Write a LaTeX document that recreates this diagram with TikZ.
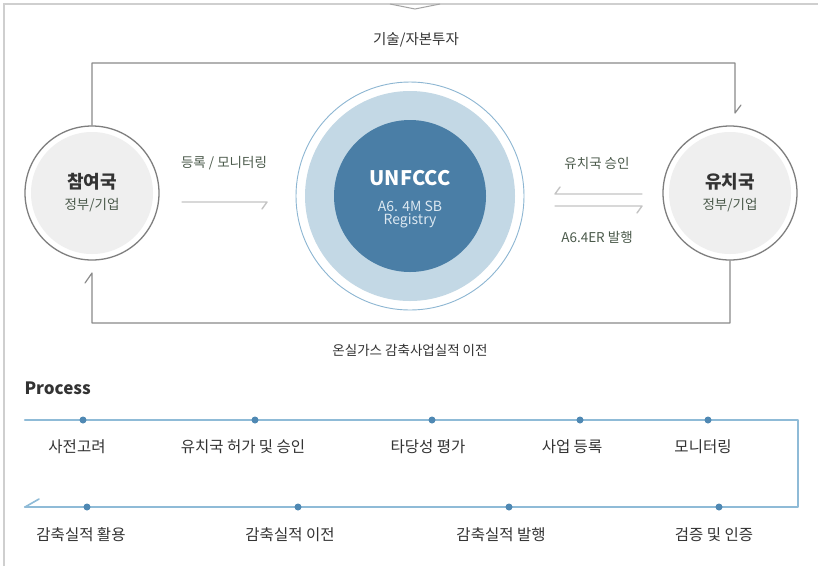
\documentclass[tikz,border=0pt]{standalone}
\usepackage{fontspec}
\setmainfont{Noto Sans CJK KR}
\usetikzlibrary{arrows.meta}
\definecolor{framec}{HTML}{CFCFCF}
\definecolor{connc}{HTML}{8A8A8A}
\definecolor{ringgray}{HTML}{7E7E7E}
\definecolor{partyfill}{HTML}{EFEFEF}
\definecolor{ringblue}{HTML}{8DB6D2}
\definecolor{lightblue}{HTML}{C3D8E5}
\definecolor{darkblue}{HTML}{4A7EA6}
\definecolor{paletext}{HTML}{DCE8F1}
\definecolor{greentext}{HTML}{4B5A4B}
\definecolor{darktext}{HTML}{333333}
\definecolor{shortarr}{HTML}{C4C4C4}
\definecolor{procline}{HTML}{8FBBD7}
\definecolor{procdot}{HTML}{4F88B3}
\tikzset{
  fs/.style={font=\fontsize{#1}{#1}\selectfont},
  fsb/.style={font=\fontsize{#1}{#1}\selectfont\bfseries},
  party/.style={circle, draw=ringgray, line width=1.3pt, minimum size=134pt, inner sep=0pt},
  conn/.style={draw=connc, line width=1.2pt, line join=round, line cap=round},
  shortar/.style={draw=shortarr, line width=1.4pt, line join=round, line cap=round},
  glabel/.style={fs=13.5, text=greentext},
  plabel/.style={fs=15.5, text=darktext},
  pdot/.style={circle, fill=procdot, minimum size=7pt, inner sep=0pt},
  procl/.style={draw=procline, line width=2.2pt, line join=round, line cap=round},
}
\begin{document}
\begin{tikzpicture}[x=1pt,y=-1pt]
\useasboundingbox (0,0) rectangle (818,566);
\fill[white] (0,0) rectangle (818,566);
% frame
\draw[framec, line width=1.6pt] (4,566) -- (4,4) -- (818,4);
\draw[framec!80!black, line width=1pt] (390,4) -- (415,9) -- (440,4);

% top label
\node[fs=14.5, text=darktext] (ttop) at (416,40) {기술/자본투자};

% party circles
\node[party] (A) at (92,193) {};
\fill[partyfill] (A.center) circle (61);
\node[fsb=18, text=darktext] (Aname) at (92,182) {참여국};
\node[glabel] (Asub) at (92,205) {정부/기업};

\node[party] (B) at (730,193) {};
\fill[partyfill] (B.center) circle (61);
\node[fsb=18, text=darktext] (Bname) at (730,182) {유치국};
\node[glabel] (Bsub) at (730,205) {정부/기업};

% UNFCCC
\node[circle, draw=ringblue, line width=0.9pt, minimum size=228pt, inner sep=0pt] (U) at (410,196) {};
\fill[lightblue] (U.center) circle (105);
\fill[darkblue] (U.center) circle (76);
\node[fsb=20, text=white] (Ut) at (410,178) {UNFCCC};
\node[fs=14, text=paletext] (Us1) at (410,206) {A6. 4M SB};
\node[fs=14, text=paletext] (Us2) at (410,221) {Registry};

% connectors (half-arrow barbs drawn at the tips)
\coordinate (t1) at (92,63);
\coordinate (t2) at (735,63);
\coordinate (t3) at (735,113);
\draw[conn] (A.north) -- (t1) -- (t2) -- (t3) -- ++(6,-8);

\coordinate (b1) at (730,323);
\coordinate (b2) at (92,323);
\coordinate (b3) at (92,273);
\draw[conn] (B.south) -- (b1) -- (b2) -- (b3) -- ++(-7,10);
\node[fs=13.5, text=darktext] (tbot) at (410,350) {온실가스 감축사업실적 이전};

% short arrows
\node[glabel] (l1) at (224,163) {등록 / 모니터링};
\coordinate (s1a) at (182,202);
\coordinate (s1b) at (267,202);
\draw[shortar] (s1a) -- (s1b) -- ++(-5,7);

\node[glabel] (l2) at (597,163) {유치국 승인};
\coordinate (s2a) at (642,194);
\coordinate (s2b) at (555,194);
\draw[shortar] (s2a) -- (s2b) -- ++(5,-7);
\coordinate (s3a) at (555,206);
\coordinate (s3b) at (642,206);
\draw[shortar] (s3a) -- (s3b) -- ++(-5,7);
\node[glabel] (l3) at (597,237) {A6.4ER 발행};

% Process
\node[fsb=17, text=darktext, anchor=west] (proc) at (21,388) {Process};
\coordinate (p0) at (25,420);
\coordinate (p1) at (798,420);
\coordinate (p2) at (798,507);
\coordinate (p3) at (25,507);
\draw[procl] (p0) -- (p1) -- (p2) -- (p3);
\draw[draw=procline, line width=1.6pt, line cap=round] (p3) -- ++(14,-8);

\node[pdot] (d1) at (83,420) {};
\node[pdot] (d2) at (255,420) {};
\node[pdot] (d3) at (432,420) {};
\node[pdot] (d4) at (580,420) {};
\node[pdot] (d5) at (708,420) {};
\node[pdot] (d6) at (719,507) {};
\node[pdot] (d7) at (509,507) {};
\node[pdot] (d8) at (298,507) {};
\node[pdot] (d9) at (87,507) {};

\node[plabel] (n1) at (77,447) {사전고려};
\node[plabel] (n2) at (243,447) {유치국 허가 및 승인};
\node[plabel] (n3) at (428,447) {타당성 평가};
\node[plabel] (n4) at (572,447) {사업 등록};
\node[plabel] (n5) at (703,447) {모니터링};
\node[plabel] (n6) at (714,535) {검증 및 인증};
\node[plabel] (n7) at (501,535) {감축실적 발행};
\node[plabel] (n8) at (290,535) {감축실적 이전};
\node[plabel] (n9) at (81,535) {감축실적 활용};
\end{tikzpicture}
\end{document}
